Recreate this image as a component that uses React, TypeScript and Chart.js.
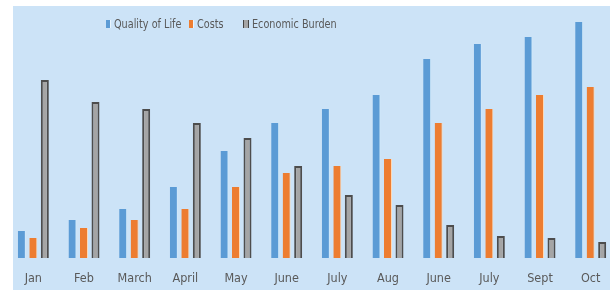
import React, { useEffect, useRef } from "react";
import { Chart, registerables } from "chart.js";

Chart.register(...registerables);

const categories = ["Jan", "Feb", "March", "April", "May", "June", "July", "Aug", "June", "July", "Sept", "Oct"];
const qualityOfLife = [27, 38, 49, 71, 107, 135, 149, 163, 199, 214, 221, 236];
const costs = [20, 30, 38, 49, 71, 85, 92, 99, 135, 149, 163, 171];
const economicBurden = [178, 156, 149, 135, 120, 92, 63, 53, 33, 22, 20, 16];

const seriesNames = ["Quality of Life", "Costs", "Economic Burden"];
const seriesColors = ["#5b9bd5", "#ed7d31", "#a5a5a5"];

const FONT = "'Liberation Sans Narrow', 'DejaVu Sans Condensed', 'Liberation Sans', sans-serif";

export default function App() {
  const ref = useRef<HTMLCanvasElement | null>(null);

  useEffect(() => {
    if (!ref.current) return;
    const chart = new Chart(ref.current, {
      type: "bar",
      data: {
        labels: categories,
        datasets: [
          {
            label: seriesNames[0],
            data: qualityOfLife,
            backgroundColor: seriesColors[0],
            borderColor: "#cfe9fb",
            borderWidth: { left: 0, right: 1, top: 0, bottom: 0 },
            borderSkipped: false,
          },
          {
            label: seriesNames[1],
            data: costs,
            backgroundColor: seriesColors[1],
            borderColor: "#fbd9b8",
            borderWidth: { left: 0, right: 1, top: 0, bottom: 0 },
            borderSkipped: false,
          },
          {
            label: seriesNames[2],
            data: economicBurden,
            backgroundColor: seriesColors[2],
            borderColor: "#4d4d4d",
            borderWidth: { left: 2, right: 2, top: 2, bottom: 0 },
            borderSkipped: false,
          },
        ],
      },
      options: {
        responsive: false,
        animation: false,
        maintainAspectRatio: false,
        layout: { padding: { left: 8, right: 0, top: 8, bottom: 0 } },
        datasets: {
          bar: { categoryPercentage: 0.681, barPercentage: 0.696 },
        },
        plugins: {
          legend: { display: false },
          tooltip: { enabled: false },
        },
        scales: {
          x: {
            grid: { display: false, drawTicks: false },
            border: { display: false },
            ticks: {
              color: "#595959",
              font: { family: FONT, size: 12.5, lineHeight: 2 },
              padding: 8,
              maxRotation: 0,
              autoSkip: false,
            },
          },
          y: {
            display: false,
            min: 0,
            max: 250,
          },
        },
      },
    });
    return () => chart.destroy();
  }, []);

  const markerLefts = [106, 189, 243];
  const legendItem = (name: string, color: string, i: number) => (
    <div
      key={i}
      style={{ position: "absolute", left: markerLefts[i], top: 17, display: "flex", alignItems: "center", whiteSpace: "nowrap" }}
    >
      <span
        style={{
          display: "inline-block",
          width: 4,
          height: 8,
          background: color,
          borderRight: i === 2 ? "1px solid #444" : "1px solid #e8f4fd",
          borderLeft: i === 2 ? "1px solid #444" : "none",
          marginRight: 3,
        }}
      />
      <span style={{ display: "inline-block", transform: "scaleX(0.86)", transformOrigin: "left center" }}>{name}</span>
    </div>
  );

  return (
    <div style={{ position: "fixed", left: 0, top: 0, width: 610, height: 290, overflow: "hidden", background: "#ffffff" }}>
      <div style={{ position: "absolute", left: 13, top: 6, right: 0, bottom: 0, background: "#cce3f7" }} />
      <canvas ref={ref} width={616} height={299} style={{ position: "absolute", left: 0, top: 0, width: 616, height: 299 }} />
      <div style={{ position: "absolute", left: 0, top: 0, fontFamily: FONT, fontSize: 12.5, color: "#595959", lineHeight: "14px" }}>
        {seriesNames.map((n, i) => legendItem(n, seriesColors[i], i))}
      </div>
    </div>
  );
}
